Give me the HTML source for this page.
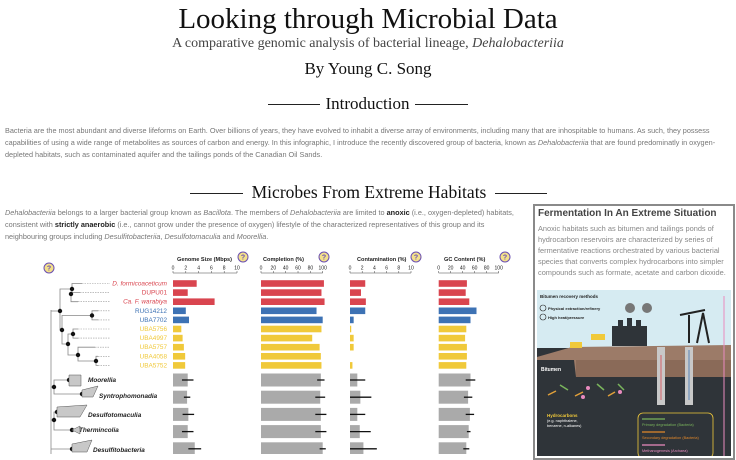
<!DOCTYPE html>
<html><head><meta charset="utf-8">
<style>
body{margin:0;width:736px;height:454px;overflow:hidden;background:#fff;position:relative;font-family:"Liberation Sans",sans-serif;}
.abs{position:absolute;}
.serif{font-family:"Liberation Serif",serif;color:#111;white-space:nowrap;}
.body{color:#777;font-size:7.3px;line-height:12px;}
.hline{position:absolute;height:1px;background:#222;}
</style></head><body>
<div class="abs serif" style="left:0;width:736px;top:3px;text-align:center;font-size:29px;">Looking through Microbial Data</div>
<div class="abs serif" style="left:0;width:736px;top:36px;text-align:center;font-size:14px;color:#444;">A comparative genomic analysis of bacterial lineage, <i>Dehalobacteriia</i></div>
<div class="abs serif" style="left:0;width:736px;top:59px;text-align:center;font-size:17px;">By Young C. Song</div>
<div class="hline" style="left:268px;width:52px;top:104px;"></div>
<div class="abs serif" style="left:320px;width:95px;top:94px;text-align:center;font-size:17px;">Introduction</div>
<div class="hline" style="left:415px;width:53px;top:104px;"></div>
<div class="abs body" style="left:5px;width:728px;top:125px;">Bacteria are the most abundant and diverse lifeforms on Earth. Over billions of years, they have evolved to inhabit a diverse array of environments, including many that are inhospitable to humans. As such, they possess capabilities of using a wide range of metabolites as sources of carbon and energy. In this infographic, I introduce the recently discovered group of bacteria, known as <i>Dehalobacteriia</i> that are found predominatly in oxygen-depleted habitats, such as contaminated aquifer and the tailings ponds of the Canadian Oil Sands.</div>
<div class="hline" style="left:190px;width:53px;top:193px;"></div>
<div class="abs serif" style="left:243px;width:252px;top:182px;text-align:center;font-size:17.5px;">Microbes From Extreme Habitats</div>
<div class="hline" style="left:495px;width:52px;top:193px;"></div>
<div class="abs body" style="left:5px;width:522px;top:207px;"><i>Dehalobacteriia</i> belongs to a larger bacterial group known as <i>Bacillota</i>. The members of <i>Dehalobacteriia</i> are limited to <b style="color:#222">anoxic</b> (i.e., oxygen-depleted) habitats, consistent with <b style="color:#222">strictly anaerobic</b> (i.e., cannot grow under the presence of oxygen) lifestyle of the characterized representatives of this group and its neighbouring groups including <i>Desulfitobacteriia</i>, <i>Desulfotomaculia</i> and <i>Moorellia</i>.</div>

<div class="abs" style="left:533px;top:204px;width:198px;height:252px;border:2px solid #8a8a8a;">
<div class="abs" style="left:3px;top:2px;font-size:10px;font-weight:bold;color:#444;white-space:nowrap;">Fermentation In An Extreme Situation</div>
<div class="abs body" style="left:3px;top:17px;width:194px;font-size:7.4px;line-height:11px;color:#888;">Anoxic habitats such as bitumen and tailings ponds of hydrocarbon reservoirs are characterized by series of fermentative reactions orchestrated by various bacterial species that converts complex hydrocarbons into simpler compounds such as formate, acetate and carbon dioxide.</div>
<svg class="abs" style="left:2px;top:84px;" width="194" height="166" viewBox="537 290 194 166">
<rect x="537" y="290" width="194" height="166" fill="#2f3439"/>
<rect x="537" y="290" width="194" height="58" fill="#d6ebf2"/>
<polygon points="572,347 731,345 731,377 576,377 574,360 537,360 537,357" fill="#9c7b68"/>
<rect x="576" y="360" width="155" height="17" fill="#8a6a58"/>
<text x="540" y="298" font-size="4.5" font-weight="bold" fill="#222">Bitumen recovery methods</text>
<circle cx="543" cy="308" r="3" fill="none" stroke="#222" stroke-width=".6"/><text x="548" y="310" font-size="4" font-weight="bold" fill="#222">Physical extraction/refinery</text>
<circle cx="543" cy="317" r="3" fill="none" stroke="#222" stroke-width=".6"/><text x="548" y="319" font-size="4" font-weight="bold" fill="#222">High heat/pressure</text>
<path d="M612,346 V326 h6 v-6 h5 v6 h4 v-8 h5 v8 h4 v-6 h5 v6 h6 v20 z" fill="#2f3439"/>
<circle cx="630" cy="308" r="5" fill="#777"/><circle cx="647" cy="308" r="5" fill="#777"/>
<rect x="591" y="334" width="14" height="6" fill="#f0c93a"/>
<rect x="570" y="342" width="12" height="6" fill="#f0c93a"/>
<rect x="657" y="347" width="8" height="58" fill="#c8c8c8"/>
<rect x="685" y="347" width="8" height="58" fill="#c8c8c8"/>
<line x1="661" y1="355" x2="661" y2="400" stroke="#d9454f" stroke-width=".8"/>
<line x1="689" y1="400" x2="689" y2="350" stroke="#3d72b4" stroke-width=".8"/>
<path d="M689,343 V315 M697,343 l6,-30 l6,30 M680,315 l25,-5" stroke="#222" stroke-width="2" fill="none"/>
<line x1="724" y1="296" x2="724" y2="456" stroke="#e98bbf" stroke-width="1"/>
<text x="541" y="371" font-size="5" font-weight="bold" fill="#fff">Bitumen</text>
<g stroke-width="1.5"><line x1="548" y1="395" x2="556" y2="391" stroke="#e0a03a"/><line x1="560" y1="385" x2="568" y2="390" stroke="#7ab55c"/><line x1="575" y1="396" x2="583" y2="392" stroke="#e0a03a"/><line x1="597" y1="384" x2="604" y2="390" stroke="#7ab55c"/><line x1="608" y1="396" x2="615" y2="392" stroke="#e0a03a"/><line x1="618" y1="384" x2="624" y2="390" stroke="#7ab55c"/></g>
<circle cx="588" cy="388" r="2" fill="#e98bbf"/><circle cx="583" cy="397" r="2" fill="#e98bbf"/><circle cx="620" cy="392" r="2" fill="#e98bbf"/>
<text x="547" y="417" font-size="4.5" font-weight="bold" fill="#f0c93a">Hydrocarbons</text>
<text x="547" y="422" font-size="3.8" fill="#fff">(e.g. naphthalene,</text>
<text x="547" y="427" font-size="3.8" fill="#fff">benzene, n-alkanes)</text>
<rect x="638" y="413" width="75" height="45" rx="5" fill="none" stroke="#f0c93a" stroke-width=".8"/>
<line x1="642" y1="419" x2="665" y2="419" stroke="#7ab55c" stroke-width="1.2"/><text x="642" y="426" font-size="3.8" fill="#7ab55c">Primary degradation (Bacteria)</text>
<line x1="642" y1="432" x2="665" y2="432" stroke="#e0862a" stroke-width="1.2"/><text x="642" y="439" font-size="3.8" fill="#e0862a">Secondary degradation (Bacteria)</text>
<line x1="642" y1="445" x2="665" y2="445" stroke="#e98bbf" stroke-width="1.2"/><text x="642" y="452" font-size="3.8" fill="#e98bbf">Methanogenesis (Archaea)</text>
</svg>
</div>

<svg id="chart" class="abs" style="left:0;top:250px;" width="530" height="204" viewBox="0 250 530 204"></svg>

<script>
const leafLabels=["D. formicoaceticum","DUPU01","Ca. F. warabiya","RUG14212","UBA7702","UBA5756","UBA4997","UBA5757","UBA4058","UBA5752"];
const leafGroups=["red","red","red","blue","blue","yellow","yellow","yellow","yellow","yellow"];
const cladeLabels=["Moorellia","Syntrophomonadia","Desulfotomaculia","Thermincolia","Desulfitobacteria"];
const genomeSize=[3.7,2.3,6.5,2.0,2.5,1.3,1.5,1.7,1.9,1.9];
const completion=[102,98,103,90,100,98,83,95,97,98];
const contamination=[2.5,1.8,2.6,2.5,0.6,0.2,0.6,0.6,0,0.4];
const gcContent=[47,45,51,63,53,46,44,47,47,46];
const cladeGenome=[2.3,2.2,2.4,2.3,3.4];
const cladeGenomeErr=[0.9,0.5,0.9,0.9,1.0];
const cladeCompletion=[97,96,97,97,100];
const cladeCompletionErr=[6,8,9,9,5];
const cladeContam=[1.2,1.7,1.2,1.6,2.2];
const cladeContamErr=[1.3,1.8,1.3,1.8,2.2];
const cladeGC=[53,49,52,50,46];
const cladeGCErr=[8,7,7,3,5];
const panelTitles=["Genome Size (Mbps)","Completion (%)","Contamination (%)","GC Content (%)"];
const ticksSmall=[0,2,4,6,8,10];
const ticksPct=[0,20,40,60,80,100];

const NS="http://www.w3.org/2000/svg";
const svg=document.getElementById('chart');
const colors={red:"#d9454f",blue:"#3d72b4",yellow:"#f0c93a"};
function mk(tag,attrs,parent){const e=document.createElementNS(NS,tag);for(const k in attrs)e.setAttribute(k,attrs[k]);(parent||svg).appendChild(e);return e;}
const leafY=i=>283.5+i*9.1;
const cladeY=i=>380+i*17.2;
const panels=[
 {x0:173,x1:237,max:10,ticks:ticksSmall,v:genomeSize,cv:cladeGenome,ce:cladeGenomeErr,tx:177},
 {x0:261,x1:322.7,max:100,ticks:ticksPct,v:completion,cv:cladeCompletion,ce:cladeCompletionErr,tx:263},
 {x0:350,x1:411,max:10,ticks:ticksSmall,v:contamination,cv:cladeContam,ce:cladeContamErr,tx:357},
 {x0:438.7,x1:498.7,max:100,ticks:ticksPct,v:gcContent,cv:cladeGC,ce:cladeGCErr,tx:444}
];
panels.forEach((p,pi)=>{
 const sx=v=>p.x0+(p.x1-p.x0)*v/p.max;
 const g=mk('g',{});
 
 
 const t=mk('text',{x:p.tx,y:261,'font-size':5.6,'font-weight':'bold',fill:'#222'},g);t.textContent=panelTitles[pi];
 
 
 mk('line',{x1:p.x0,x2:p.x1,y1:273,y2:273,stroke:'#444','stroke-width':.6},g);
 p.ticks.forEach(tv=>{
  mk('line',{x1:sx(tv),x2:sx(tv),y1:271,y2:273,stroke:'#444','stroke-width':.5},g);
  const tl=mk('text',{x:sx(tv),y:269.5,'font-size':5,'text-anchor':'middle',fill:'#222'},g);tl.textContent=tv;
  
  
 });
 p.v.forEach((v,i)=>{
  const b=mk('rect',{x:p.x0,y:leafY(i)-3.3,width:Math.max(0,sx(v)-p.x0),height:6.6,fill:colors[leafGroups[i]]},g);
  
  
 });
 p.cv.forEach((v,i)=>{
  const y=cladeY(i);
  const b=mk('rect',{x:p.x0,y:y-6.5,width:sx(v)-p.x0,height:13,fill:'#aaa'},g);
  
  
  const e=mk('line',{x1:sx(Math.max(0,v-p.ce[i])),x2:sx(v+p.ce[i]),y1:y,y2:y,stroke:'#111','stroke-width':1.3},g);
  
  
 });
});
const tree=mk('g',{stroke:'#888','stroke-width':.8,fill:'none'});


function el(x1,y1,x2,y2){mk('path',{d:`M${x1},${y1} V${y2} H${x2}`},tree);}
mk('line',{x1:51,y1:310,x2:51,y2:454},tree);
el(51,387,54,387);el(51,420,54,420);el(51,449,72,449);
el(51,311,60,311);
el(60,311,72,289);el(60,311,62,330);
el(72,289,82,leafY(0));el(72,289,71,294);
el(71,294,80,leafY(1));el(71,294,78,leafY(2));
el(62,330,92,315.5);el(92,315.5,98,leafY(3));el(92,315.5,98,leafY(4));
el(62,330,68,344);el(68,344,73,334);el(73,334,78,leafY(5));el(73,334,78,leafY(6));
el(68,344,78,355);el(78,355,95,leafY(7));el(78,355,96,361);el(96,361,98,leafY(8));el(96,361,98,leafY(9));
el(54,387,69,380);el(54,387,82,394);
el(54,420,57,412);el(54,420,72,430);
[[60,311],[72,289],[71,294],[62,330],[92,315.5],[68,344],[73,334],[78,355],[96,361],[54,387],[69,380],[82,394],[54,420],[57,412],[72,430],[72,449]].forEach(n=>{
 const c=mk('circle',{cx:n[0],cy:n[1],r:2.2,fill:'#111',stroke:'none'});
 
 
});
const leafStart=[82,80,78,98,98,78,78,95,98,98];
leafLabels.forEach((l,i)=>{
 const y=leafY(i);
 mk('line',{x1:leafStart[i],x2:110,y1:y,y2:y,stroke:'#999','stroke-width':.6,'stroke-dasharray':'1.5,1'});
 const t=mk('text',{x:167,y:y+2,'font-size':6.4,'text-anchor':'end',fill:colors[leafGroups[i]],'font-style':i<3&&i!=1?'italic':'normal'});
 t.textContent=l;
 
 
});
const shapes=[["M69,375 h12 v11 h-12 z",88,382],["M82,390 l16,-4 l-5,11 h-11 z",99,398],["M57,407 l30,-2 l-7,12 h-23 z",88,417],["M72,430 l8,-4 v8 z",79,432],["M72,444 l20,-4 l-5,12 h-15 z",93,452]];
shapes.forEach((s,i)=>{
 const p=mk('path',{d:s[0],fill:'#c8c8c8',stroke:'#555','stroke-width':.5});
 
 
 const t=mk('text',{x:s[1],y:s[2],'font-size':6.4,'font-weight':'bold','font-style':'italic',fill:'#222'});
 t.textContent=cladeLabels[i];
 
 
});
[[49,268],[243,257],[324,257],[416,257],[505,257]].forEach(c=>{
 const g=mk('g',{});
 
 
 mk('circle',{cx:c[0],cy:c[1],r:5,fill:'#f3e08a',stroke:'#6a4fb3','stroke-width':1},g);
 const t=mk('text',{x:c[0],y:c[1]+2.5,'font-size':7,'text-anchor':'middle',fill:'#6a4fb3','font-weight':'bold'},g);t.textContent='?';
});
</script>
</body></html>
